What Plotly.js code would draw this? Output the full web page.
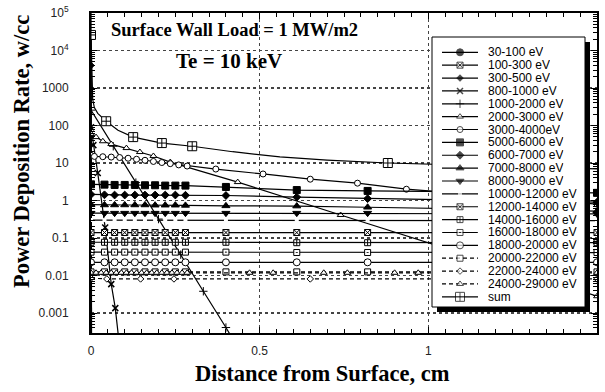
<!DOCTYPE html>
<html>
<head>
<meta charset="utf-8">
<script src="https://cdn.plot.ly/plotly-3.0.1.min.js"></script>
<style>
  html, body { margin: 0; padding: 0; background: #fff; }
  #chart { width: 605px; height: 392px; }
</style>
</head>
<body>
<div id="chart"></div>
<script>
// ---- energy-bin labels (legend order) ----
const binLabels = [
  '30-100 eV', '100-300 eV', '300-500 eV', '800-1000 eV', '1000-2000 eV',
  '2000-3000 eV', '3000-4000eV', '5000-6000 eV', '6000-7000 eV', '7000-8000 eV',
  '8000-9000 eV', '10000-12000 eV', '12000-14000 eV', '14000-16000 eV',
  '16000-18000 eV', '18000-20000 eV', '20000-22000 eV', '22000-24000 eV',
  '24000-29000 eV', 'sum'
];

// ---- distance from surface (cm) ----
const xWall30 = [0, 0.001];
const xWall100 = [0, 0.001];
const xWall300 = [0, 0.002];
const x800 = [0, 0.007, 0.02, 0.042, 0.06, 0.072, 0.085];
const x1000 = [0, 0.066, 0.133, 0.2, 0.266, 0.333, 0.4, 0.46];
const x2000 = [0, 0.015, 0.035, 0.06, 0.105, 0.145, 0.185, 0.235, 0.435, 0.74, 1.04, 1.5];
const x3000 = [0, 0.01, 0.035, 0.06, 0.085, 0.11, 0.135, 0.16, 0.185, 0.21, 0.235, 0.26, 0.285, 0.37, 0.51, 0.65, 0.79, 0.935, 1.5];
const xGrid = [0, 0.04, 0.07, 0.1, 0.13, 0.16, 0.19, 0.22, 0.25, 0.28, 0.4, 0.61, 0.82, 1.03, 1.24, 1.5];
const x22000 = [0, 0.047, 0.147, 0.246, 0.65, 1.05, 1.5];
const x24000 = [0, 0.015, 0.03, 0.045, 0.06, 0.075, 0.09, 0.105, 0.12, 0.135, 0.15, 0.165, 0.18, 0.195, 0.21, 0.225, 0.24, 0.255, 0.27, 0.285, 0.47, 0.54, 0.69, 0.76, 0.9, 0.97, 1.11, 1.18, 1.32, 1.39, 1.5];
const xSumCurve = [0, 0.002, 0.005, 0.01, 0.02, 0.045, 0.08, 0.125, 0.21, 0.3, 0.42, 0.56, 0.7, 0.88, 1.1, 1.3, 1.5];
const xSumMarks = [0, 0.045, 0.125, 0.21, 0.3, 0.88];

// ---- power deposition rate (w/cc) ----
const p30_100 = [1.5e5, 1e-5];
const p100_300 = [2.6e4, 1e-5];
const p300_500 = [4000, 1e-5];
const p800_1000 = [90, 30, 5.4, 0.19, 0.0059, 0.00135, 0.00012];
const p1000_2000 = [257, 28, 3.0, 0.32, 0.036, 0.0038, 0.00041, 0.00005];
const p2000_3000 = [60, 49, 38, 32, 25, 19.6, 15.4, 10.6, 3.1, 0.41, 0.057, 0.0028];
const p3000_4000 = [16, 15, 14.7, 14.4, 14, 13.4, 12.6, 11.8, 11, 10.3, 9.6, 8.9, 8.3, 6.9, 5.1, 3.7, 2.9, 2.0, 0.8];
const p5000_6000 = [2.7, 2.65, 2.6, 2.6, 2.6, 2.55, 2.55, 2.5, 2.5, 2.5, 2.3, 1.9, 1.8, 1.75, 1.7, 1.6];
const p6000_7000 = [1.45, 1.42, 1.4, 1.4, 1.4, 1.4, 1.4, 1.4, 1.4, 1.38, 1.36, 1.23, 1.12, 1.05, 1.0, 0.9];
const p7000_8000 = [0.78, 0.76, 0.76, 0.76, 0.76, 0.76, 0.75, 0.75, 0.75, 0.74, 0.72, 0.71, 0.66, 0.62, 0.58, 0.52];
const p8000_9000 = [0.46, 0.46, 0.46, 0.46, 0.46, 0.46, 0.46, 0.46, 0.46, 0.46, 0.46, 0.46, 0.46, 0.45, 0.45, 0.44];
const p10000_12000 = [0.3, 0.3, 0.3, 0.3, 0.3, 0.3, 0.3, 0.3, 0.3, 0.3, 0.3, 0.3, 0.3, 0.3, 0.3, 0.29];
const p12000_14000 = [0.14, 0.14, 0.14, 0.14, 0.14, 0.14, 0.14, 0.14, 0.14, 0.14, 0.14, 0.14, 0.14, 0.14, 0.14, 0.14];
const p14000_16000 = [0.077, 0.077, 0.077, 0.077, 0.077, 0.077, 0.077, 0.077, 0.077, 0.077, 0.077, 0.075, 0.075, 0.075, 0.075, 0.075];
const p16000_18000 = [0.042, 0.042, 0.042, 0.042, 0.042, 0.042, 0.042, 0.042, 0.042, 0.042, 0.042, 0.041, 0.041, 0.041, 0.041, 0.041];
const p18000_20000 = [0.0225, 0.0225, 0.0225, 0.0225, 0.0225, 0.0225, 0.0225, 0.0225, 0.0225, 0.0225, 0.0225, 0.0225, 0.0225, 0.0225, 0.0225, 0.0225];
const p20000_22000 = [0.0125, 0.0125, 0.0125, 0.0125, 0.0125, 0.0125, 0.0125, 0.0125, 0.0125, 0.0125, 0.0125, 0.0125, 0.0125, 0.0125, 0.0125, 0.0125];
const p22000_24000 = [0.0085, 0.0081, 0.0081, 0.0081, 0.0081, 0.0081, 0.0081];
const p24000_29000 = [0.0118, 0.0118, 0.0118, 0.0118, 0.0118, 0.0118, 0.0118, 0.0118, 0.0118, 0.0118, 0.0118, 0.0118, 0.0118, 0.0118, 0.0118, 0.0118, 0.0118, 0.0118, 0.0118, 0.0118, 0.0118, 0.0118, 0.0118, 0.0118, 0.0118, 0.0118, 0.0118, 0.0118, 0.0118, 0.0118, 0.0118];
const pSumCurve = [26000, 2000, 500, 300, 210, 130, 75, 49, 34, 28, 20, 14.5, 12, 10, 8.8, 7.8, 7];
const pSumMarks = [26000, 130, 49, 34, 28, 10];

// ---- axis tick labels ----
const yTickVals = [0.001, 0.01, 0.1, 1, 10, 100, 1000, 1e4, 1e5];
const yTickText = ['0.001', '0.01', '0.1', '1', '10', '100', '1000', '10<sup>4</sup>', '10<sup>5</sup>'];
const xTickVals = [0, 0.5, 1, 1.5];
const xTickText = ['0', '0.5', '1', '1.5'];

// ---- styling ----
const INK = '#000';
const SANS = 'Liberation Sans, Arial, sans-serif';
const SERIF = 'Liberation Serif, Times New Roman, serif';
const LINE_W = 1.2;

function mk(symbol, size, fill, lw) {
  return { symbol: symbol, size: size, color: fill, line: { color: INK, width: lw == null ? 1 : lw } };
}

// one entry per legend row: data, marker, dash
const series = [
  { x: xWall30,  y: p30_100,      m: mk('circle', 7, INK),               dash: 'solid' },
  { x: xWall100, y: p100_300,     m: mk('square-x', 6, '#fff'),          dash: 'solid' },
  { x: xWall300, y: p300_500,     m: mk('diamond', 5, INK),              dash: 'solid' },
  { x: x800,     y: p800_1000,    m: mk('x-thin-open', 6, INK, 1.5),     dash: 'solid' },
  { x: x1000,    y: p1000_2000,   m: mk('cross-thin-open', 6, INK, 1),   dash: 'solid' },
  { x: x2000,    y: p2000_3000,   m: mk('triangle-up', 6, '#fff'),       dash: 'solid' },
  { x: x3000,    y: p3000_4000,   m: mk('circle', 6, '#fff'),            dash: 'solid' },
  { x: xGrid,    y: p5000_6000,   m: mk('square', 7, INK),               dash: 'solid' },
  { x: xGrid,    y: p6000_7000,   m: mk('diamond', 6, INK),              dash: 'solid' },
  { x: xGrid,    y: p7000_8000,   m: mk('triangle-up', 7, INK),          dash: 'solid' },
  { x: xGrid,    y: p8000_9000,   m: mk('triangle-down', 7, INK),        dash: 'solid' },
  { x: xGrid,    y: p10000_12000, m: mk('square', 4, '#fff', 0),         dash: 'solid' },
  { x: xGrid,    y: p12000_14000, m: mk('square-x', 6, '#fff'),          dash: 'solid' },
  { x: xGrid,    y: p14000_16000, m: mk('square-cross', 6, '#fff'),      dash: 'solid' },
  { x: xGrid,    y: p16000_18000, m: mk('square-dot', 6, '#fff'),        dash: 'solid' },
  { x: xGrid,    y: p18000_20000, m: mk('circle', 7, '#fff'),            dash: 'solid' },
  { x: xGrid,    y: p20000_22000, m: mk('square', 6, '#fff'),            dash: '4px,3px' },
  { x: x22000,   y: p22000_24000, m: mk('diamond', 5, '#fff'),           dash: '4px,3px' },
  { x: x24000,   y: p24000_29000, m: mk('triangle-up', 6, '#fff'),       dash: '4px,3px' },
  { x: xSumMarks, y: pSumMarks,   m: mk('square-cross', 9, '#fff'),      dash: 'solid' }
];

const traces = [];
// the summed curve is drawn as a continuous line under its marked points
traces.push({
  type: 'scatter', mode: 'lines', x: xSumCurve, y: pSumCurve,
  line: { color: INK, width: LINE_W }, hoverinfo: 'skip'
});
series.forEach((s, i) => {
  const isSum = i === series.length - 1;
  traces.push({
    type: 'scatter', name: binLabels[i],
    mode: isSum ? 'markers' : 'lines+markers',
    x: s.x, y: s.y,
    line: { color: INK, width: LINE_W, dash: s.dash },
    marker: s.m,
    cliponaxis: true
  });
});

// ---- key box, drawn on a pixel-scaled overlay subplot ----
const KEY = { left: 432, right: 585, top: 37, bottom: 307, shadow: 5,
              lineX0: 442, lineX1: 478, markX: 460, textX: 487, row0: 52.3, rowStep: 12.87 };
series.forEach((s, i) => {
  const ry = KEY.row0 + i * KEY.rowStep;
  const m = JSON.parse(JSON.stringify(s.m));
  const lw = m.line.width;
  m.size = [0, m.size, 0];
  m.line.width = [0, lw, 0];
  traces.push({
    type: 'scatter', mode: 'lines+markers', xaxis: 'x2', yaxis: 'y2',
    x: [KEY.lineX0, KEY.markX, KEY.lineX1], y: [ry, ry, ry],
    line: { color: INK, width: LINE_W, dash: s.dash },
    marker: m, hoverinfo: 'skip'
  });
});

const annotations = binLabels.map((t, i) => ({
  xref: 'x2', yref: 'y2', x: KEY.textX, y: KEY.row0 + i * KEY.rowStep,
  xanchor: 'left', yanchor: 'middle', showarrow: false, text: t,
  height: 12, valign: 'middle', borderpad: 0,
  font: { family: SANS, size: 12, color: INK }
}));

// page-pixel helpers for text placed around the plot area
const PLOT = { l: 91, r: 597, t: 13, b: 333 };
const px = v => (v - PLOT.l) / (PLOT.r - PLOT.l);
const py = v => (PLOT.b - v) / (PLOT.b - PLOT.t);

annotations.push(
  { xref: 'paper', yref: 'paper', x: px(109), y: py(30), xanchor: 'left', yanchor: 'middle',
    showarrow: false, text: 'Surface Wall Load = 1 MW/m2',
    font: { family: SERIF, size: 18.5, color: INK, weight: 'bold' } },
  { xref: 'paper', yref: 'paper', x: px(174), y: py(61), xanchor: 'left', yanchor: 'middle',
    showarrow: false, text: 'Te = 10 keV',
    font: { family: SERIF, size: 21, color: INK, weight: 'bold' } },
  { xref: 'paper', yref: 'paper', x: px(322), y: py(373), xanchor: 'center', yanchor: 'middle',
    showarrow: false, text: 'Distance from Surface, cm',
    font: { family: SERIF, size: 22.5, color: INK, weight: 'bold' } },
  { xref: 'paper', yref: 'paper', x: px(21), y: py(152), xanchor: 'center', yanchor: 'middle',
    showarrow: false, textangle: -90, text: 'Power Deposition Rate, w/cc',
    font: { family: SERIF, size: 22.5, color: INK, weight: 'bold' } }
);

const shapes = [
  { type: 'rect', xref: 'x2', yref: 'y2', layer: 'below',
    x0: KEY.left + KEY.shadow, x1: KEY.right + KEY.shadow, y0: KEY.top + KEY.shadow, y1: KEY.bottom + KEY.shadow,
    fillcolor: INK, line: { width: 0 } },
  { type: 'rect', xref: 'x2', yref: 'y2', layer: 'below',
    x0: KEY.left, x1: KEY.right, y0: KEY.top, y1: KEY.bottom,
    fillcolor: '#fff', line: { color: INK, width: 1 } }
];

// minor ticks at 2..9 of each decade
const yMinor = [];
for (let e = -4; e <= 4; e++) for (let k = 2; k <= 9; k++) yMinor.push(k * Math.pow(10, e));

const gridStyle = { showgrid: true, gridcolor: '#444', griddash: 'dot', gridwidth: 1.5 };

const layout = {
  width: 605, height: 392,
  margin: { l: PLOT.l, r: 605 - PLOT.r, t: PLOT.t, b: 392 - PLOT.b, pad: 0 },
  paper_bgcolor: '#fff', plot_bgcolor: 'rgba(0,0,0,0)',
  showlegend: false,
  xaxis: Object.assign({
    range: [0, 1.5], tickmode: 'array', tickvals: xTickVals, ticktext: xTickText,
    ticks: 'inside', ticklen: 6, tickwidth: 1, tickcolor: INK,
    showline: true, linewidth: 2, linecolor: INK, mirror: 'ticks', zeroline: false,
    minor: { dtick: 0.05, ticks: 'inside', ticklen: 4, tickcolor: INK, showgrid: false },
    tickfont: { family: SANS, size: 12, color: '#222' }, ticklabelstandoff: 6, fixedrange: true
  }, gridStyle),
  yaxis: Object.assign({
    type: 'log', range: [-3.533, 5], tickmode: 'array', tickvals: yTickVals, ticktext: yTickText,
    ticks: 'inside', ticklen: 6, tickwidth: 1, tickcolor: INK,
    showline: true, linewidth: 2, linecolor: INK, mirror: 'ticks', zeroline: false,
    minor: { tickmode: 'array', tickvals: yMinor, ticks: 'inside', ticklen: 4, tickcolor: INK, showgrid: false },
    tickfont: { family: SANS, size: 12, color: '#222' }, ticklabelstandoff: 18, fixedrange: true
  }, gridStyle),
  xaxis2: { domain: [0, 1], anchor: 'y2', range: [PLOT.l, PLOT.r], visible: false, fixedrange: true },
  yaxis2: { domain: [0, 1], anchor: 'x2', range: [PLOT.b, PLOT.t], visible: false, fixedrange: true },
  annotations: annotations,
  shapes: shapes
};

Plotly.newPlot('chart', traces, layout, { displayModeBar: false, staticPlot: true });
</script>
</body>
</html>
